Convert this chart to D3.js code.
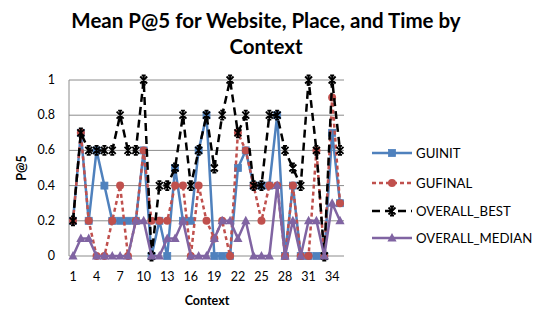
<!DOCTYPE html>
<html>
<head>
<meta charset="utf-8">
<script src="https://cdn.jsdelivr.net/npm/d3@7"></script>
<style>
  body { margin: 0; background: #fff; }
  svg text { font-family: Lato, "Open Sans", sans-serif; fill: #000; }
</style>
</head>
<body>
<svg id="chart" width="537" height="309"></svg>
<script>
// contexts 1..35
var contexts = d3.range(1, 36);
var tickLabels = [1, 4, 7, 10, 13, 16, 19, 22, 25, 28, 31, 34];
var yTicks = [0, 0.2, 0.4, 0.6, 0.8, 1];

var guinit = [0.2,0.7,0.2,0.6,0.4,0.2,0.2,0.2,0.2,0.6,0,0.2,0,0.5,0.2,0.2,0.6,0.8,0,0,0,0.5,0.6,0.4,0.4,0.4,0.8,0,0.4,0,0,0,0,0.7,0.3];
var gufinal = [0.2,0.7,0.2,0,0,0.2,0.4,0,0.2,0.6,0.2,0.2,0.2,0.4,0.4,0,0.4,0.2,0.1,0.2,0,0.7,0.6,0.4,0.2,0.4,0.4,0,0.4,0,0,0.6,0,0.9,0.3];
var overallBest = [0.2,0.7,0.6,0.6,0.6,0.6,0.8,0.6,0.6,1.0,0,0.4,0.4,0.5,0.8,0.4,0.6,0.8,0.5,0.8,1.0,0.7,0.8,0.4,0.4,0.8,0.8,0.6,0.5,0.4,1.0,0.6,0,1.0,0.6];
var overallMedian = [0,0.1,0.1,0,0,0,0,0,0.2,0.2,0,0,0.1,0.1,0.2,0,0,0,0.1,0.2,0.2,0.1,0.2,0,0,0,0.4,0,0.2,0,0.2,0.2,0,0.3,0.2];

var series = [
  {name: 'GUINIT', values: guinit, color: '#4F81BD', dash: null, marker: 'square'},
  {name: 'GUFINAL', values: gufinal, color: '#C0504D', dash: '4,3', marker: 'circle'},
  {name: 'OVERALL_BEST', values: overallBest, color: '#000000', dash: '8,5', marker: 'star'},
  {name: 'OVERALL_MEDIAN', values: overallMedian, color: '#8064A2', dash: null, marker: 'triangle'}
];

var svg = d3.select('#chart');

var x = d3.scalePoint().domain(contexts).range([73, 340]);
var y = d3.scaleLinear().domain([0, 1]).range([256, 80]);
var left = 69, right = 344;

// gridlines
svg.append('g').selectAll('line')
  .data(yTicks.slice(1))
  .enter().append('line')
  .attr('x1', left).attr('x2', right)
  .attr('y1', function(d) { return y(d); })
  .attr('y2', function(d) { return y(d); })
  .attr('stroke', '#8c8c8c').attr('stroke-width', 1);

// axes lines
svg.append('line').attr('x1', left).attr('x2', left).attr('y1', y(1)).attr('y2', y(0))
  .attr('stroke', '#8c8c8c');
svg.append('line').attr('x1', left).attr('x2', right).attr('y1', y(0)).attr('y2', y(0))
  .attr('stroke', '#8c8c8c');

// y tick labels
svg.append('g').selectAll('text')
  .data(yTicks)
  .enter().append('text')
  .attr('x', 55).attr('y', function(d) { return y(d) + 4; })
  .attr('text-anchor', 'end')
  .style('font-size', '12.5px')
  .text(function(d) { return d; });

// x tick labels
svg.append('g').selectAll('text')
  .data(tickLabels)
  .enter().append('text')
  .attr('x', function(d) { return x(d); })
  .attr('y', 281)
  .attr('text-anchor', 'middle')
  .style('font-size', '12.5px')
  .text(function(d) { return d; });

// titles
var title = svg.append('text').attr('text-anchor', 'middle')
  .style('font-size', '20.5px').style('font-weight', 'bold');
title.append('tspan').attr('x', 266).attr('y', 28).text('Mean P@5 for Website, Place, and Time by');
title.append('tspan').attr('x', 266).attr('y', 54).text('Context');

svg.append('text').attr('x', 207).attr('y', 305).attr('text-anchor', 'middle')
  .style('font-size', '12.5px').style('font-weight', 'bold').text('Context');

svg.append('text').attr('transform', 'translate(26,168) rotate(-90)')
  .attr('text-anchor', 'middle')
  .style('font-size', '12.5px').style('font-weight', 'bold').text('P@5');

// marker drawing
function drawMarker(g, type, color) {
  if (type === 'square') {
    g.append('rect').attr('x', -3.5).attr('y', -3.5).attr('width', 7).attr('height', 7)
      .attr('fill', color).attr('stroke', color).attr('stroke-width', 0.8);
  } else if (type === 'circle') {
    g.append('circle').attr('r', 4).attr('fill', color);
  } else if (type === 'triangle') {
    g.append('path').attr('d', 'M0,-5L4.6,3.5L-4.6,3.5Z').attr('fill', color);
  } else if (type === 'star') {
    g.append('path').attr('d', 'M-3.5,-3.5L3.5,3.5M-3.5,3.5L3.5,-3.5M0,-4.5L0,4.5M-2,-4.5L2,-4.5M-2,4.5L2,4.5')
      .attr('stroke', color).attr('stroke-width', 1.8).attr('fill', 'none');
  }
}

var line = d3.line()
  .x(function(d, i) { return x(contexts[i]); })
  .y(function(d) { return y(d); });

series.forEach(function(s) {
  var g = svg.append('g');
  g.append('path')
    .attr('d', line(s.values))
    .attr('fill', 'none')
    .attr('stroke', s.color)
    .attr('stroke-width', 2.5)
    .attr('stroke-dasharray', s.dash)
    .attr('stroke-linejoin', 'round');
  s.values.forEach(function(v, i) {
    var m = g.append('g').attr('transform', 'translate(' + x(contexts[i]) + ',' + y(v) + ')');
    drawMarker(m, s.marker, s.color);
  });
});

// legend
var legendY = [153, 183, 211, 238];
series.forEach(function(s, i) {
  var lg = svg.append('g').attr('transform', 'translate(0,' + legendY[i] + ')');
  lg.append('line').attr('x1', 372).attr('x2', 412).attr('y1', 0).attr('y2', 0)
    .attr('stroke', s.color).attr('stroke-width', 2.5)
    .attr('stroke-dasharray', s.dash);
  var m = lg.append('g').attr('transform', 'translate(392,0)');
  drawMarker(m, s.marker, s.color);
  lg.append('text').attr('x', 416).attr('y', 4.5)
    .style('font-size', '13.2px').text(s.name);
});
</script>
</body>
</html>
